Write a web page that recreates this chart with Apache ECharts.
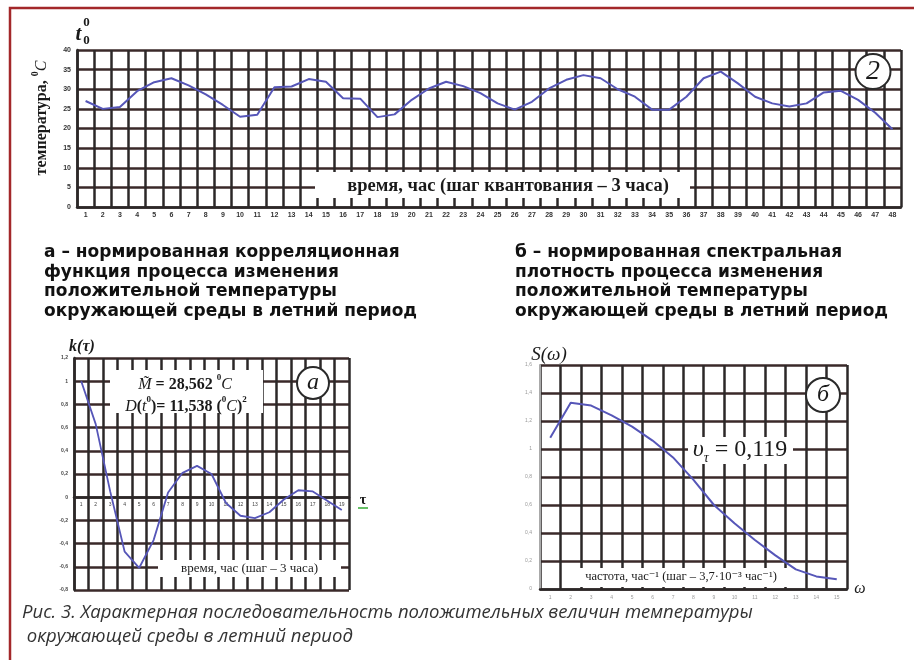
<!DOCTYPE html>
<html><head><meta charset="utf-8">
<script src="https://cdn.jsdelivr.net/npm/echarts@6/dist/echarts.min.js"></script>
<style>html,body{margin:0;padding:0;background:#fff}#c{width:914px;height:660px}</style>
</head><body><div id="c"></div>
<script>
const hourLabels = ['1','2','3','4','5','6','7','8','9','10','11','12','13','14','15','16','17','18','19','20','21','22','23','24','25','26','27','28','29','30','31','32','33','34','35','36','37','38','39','40','41','42','43','44','45','46','47','48'];
const temperature = [27,25,25.5,29.5,31.8,32.8,31,28.7,26,23,23.5,30.5,30.7,32.6,31.9,27.7,27.6,22.9,23.6,27.3,30.2,31.9,30.8,29,26.4,24.8,26.8,30.2,32.4,33.6,32.8,30,28.1,24.8,24.8,28.1,32.8,34.5,31.5,28.1,26.4,25.6,26.4,29.2,29.6,27.3,24,19.8];
const lagLabels = ['1','2','3','4','5','6','7','8','9','10','11','12','13','14','15','16','17','18','19'];
const correlation = [1.0,0.63,0.05,-0.47,-0.61,-0.37,0.04,0.21,0.27,0.2,-0.05,-0.16,-0.18,-0.13,-0.02,0.06,0.05,-0.03,-0.11];
const freqLabels = ['1','2','3','4','5','6','7','8','9','10','11','12','13','14','15'];
const spectrum = [1.08,1.33,1.31,1.24,1.16,1.06,0.94,0.78,0.6,0.47,0.35,0.24,0.14,0.09,0.07];

const GRID_V = '#2c2828';
const GRID_H = '#3a2929';
const LINE = '#5656b8';
const SERIF = '"Liberation Serif", "DejaVu Serif", serif';
const fmt = v => String(Math.round(v * 10) / 10).replace('.', ',');

// bottom-left grid geometry: the lag axis sits on the zero line of k(τ)
const G1 = {top: 358, height: 232, min: -0.8, max: 1.2};
const zeroOffset = -G1.height * (0 - G1.min) / (G1.max - G1.min);

function txt(x, y, text, font, extra) {
  return Object.assign({
    type: 'text', x: x, y: y, z: 20,
    style: Object.assign({text: text, font: font, fill: '#1a1a1a',
      align: 'center', verticalAlign: 'middle', textAlign: 'center', textVerticalAlign: 'middle'}, (extra && extra.style) || {})
  }, (extra && extra.el) || {});
}
function box(x, y, w, h) {
  return {type: 'rect', z: 15, shape: {x: x, y: y, width: w, height: h}, style: {fill: '#fff'}};
}
function ring(cx, cy, r) {
  return {type: 'circle', z: 15, shape: {cx: cx, cy: cy, r: r}, style: {fill: '#fff', stroke: '#2a2a2a', lineWidth: 2}};
}

const chart = echarts.init(document.getElementById('c'), null, {renderer: 'canvas'});
chart.setOption({
  animation: false,
  backgroundColor: '#fff',
  grid: [
    {left: 77, top: 50, width: 824, height: 157, outerBoundsMode: 'none'},
    {left: 74, top: G1.top, width: 275, height: G1.height, outerBoundsMode: 'none'},
    {left: 540, top: 365, width: 307, height: 224, outerBoundsMode: 'none'}
  ],
  xAxis: [
    {type: 'category', gridIndex: 0, data: hourLabels, boundaryGap: true,
     axisLine: {show: true, lineStyle: {color: GRID_V, width: 2.5}}, axisTick: {show: false},
     axisLabel: {interval: 0, fontSize: 7, fontWeight: 'bold', color: '#333', margin: 5},
     splitLine: {show: true, interval: 0, lineStyle: {color: GRID_V, width: 2.5}}},
    {type: 'category', gridIndex: 1, data: lagLabels, boundaryGap: true, offset: zeroOffset,
     axisLine: {show: true, onZero: false, lineStyle: {color: GRID_V, width: 2.5}}, axisTick: {show: false},
     axisLabel: {interval: 0, fontSize: 5, color: '#444', margin: 5},
     splitLine: {show: true, interval: 0, lineStyle: {color: GRID_V, width: 2.5}}},
    {type: 'category', gridIndex: 2, data: freqLabels, boundaryGap: true,
     axisLine: {show: true, lineStyle: {color: GRID_V, width: 2.5}}, axisTick: {show: false},
     axisLabel: {interval: 0, fontSize: 5, color: '#999', margin: 6},
     splitLine: {show: true, interval: 0, lineStyle: {color: GRID_V, width: 2.5}}}
  ],
  yAxis: [
    {type: 'value', gridIndex: 0, min: 0, max: 40, interval: 5,
     axisLine: {show: true, lineStyle: {color: GRID_V, width: 2.5}}, axisTick: {show: false},
     axisLabel: {fontSize: 7, fontWeight: 'bold', color: '#333', margin: 6},
     splitLine: {show: true, lineStyle: {color: GRID_H, width: 2.5}}},
    {type: 'value', gridIndex: 1, min: G1.min, max: G1.max, interval: 0.2,
     axisLine: {show: true, lineStyle: {color: GRID_V, width: 2.5}}, axisTick: {show: false},
     axisLabel: {fontSize: 5, fontWeight: 'bold', color: '#444', margin: 6, formatter: fmt},
     splitLine: {show: true, lineStyle: {color: GRID_H, width: 2.5}}},
    {type: 'value', gridIndex: 2, min: 0, max: 1.6, interval: 0.2,
     axisLine: {show: true, lineStyle: {color: '#aaa', width: 2}}, axisTick: {show: false},
     axisLabel: {fontSize: 5, color: '#999', margin: 8, formatter: fmt},
     splitLine: {show: true, lineStyle: {color: GRID_H, width: 2.5}}}
  ],
  series: [
    {type: 'line', xAxisIndex: 0, yAxisIndex: 0, data: temperature, symbol: 'none', z: 30,
     lineStyle: {color: LINE, width: 2}},
    {type: 'line', xAxisIndex: 1, yAxisIndex: 1, data: correlation, symbol: 'none', z: 30,
     lineStyle: {color: LINE, width: 1.8}},
    {type: 'line', xAxisIndex: 2, yAxisIndex: 2, data: spectrum, symbol: 'none', z: 30,
     lineStyle: {color: LINE, width: 2}}
  ],
  graphic: [
    {type: 'polyline', z: 20, shape: {points: [[914, 8], [10, 8], [10, 660]]},
     style: {stroke: '#a3282a', lineWidth: 2.5, fill: null}},
    // top chart labels
    txt(78.5, 35, 't', 'italic bold 21px ' + SERIF),
    txt(86.5, 23, '0', 'bold 13px ' + SERIF),
    txt(86.5, 41, '0', 'bold 13px ' + SERIF),
    {type: 'text', x: 40, y: 118, z: 20, rotation: Math.PI / 2,
     style: {text: '{a|температура, }{s|0}{c|C}', align: 'center', verticalAlign: 'middle',
       textAlign: 'center', textVerticalAlign: 'middle', fill: '#1a1a1a',
       rich: {a: {font: 'bold 16px ' + SERIF, lineHeight: 20, verticalAlign: 'bottom'},
              s: {font: 'bold 10px ' + SERIF, lineHeight: 20, verticalAlign: 'top'},
              c: {font: 'italic 16px ' + SERIF, lineHeight: 20, verticalAlign: 'bottom'}}}},
    box(315, 172, 375, 26),
    txt(508, 186, 'время, час (шаг квантования – 3 часа)', 'bold 18.5px ' + SERIF),
    ring(873, 71.5, 17.5),
    txt(873, 72, '2', 'italic 28px ' + SERIF),
    // captions
    {type: 'text', x: 44, y: 243, z: 20, style: {text: 'а – нормированная корреляционная\nфункция процесса изменения\nположительной температуры\nокружающей среды в летний период',
      font: 'bold 17px "DejaVu Sans"', lineHeight: 19.5, fill: '#111', align: 'left', verticalAlign: 'top', textAlign: 'left', textVerticalAlign: 'top'}},
    {type: 'text', x: 515, y: 243, z: 20, style: {text: 'б – нормированная спектральная\nплотность процесса изменения\nположительной температуры\nокружающей среды в летний период',
      font: 'bold 17px "DejaVu Sans"', lineHeight: 19.5, fill: '#111', align: 'left', verticalAlign: 'top', textAlign: 'left', textVerticalAlign: 'top'}},
    // bottom-left chart annotations
    txt(82, 347, 'k(τ)', 'italic bold 16px ' + SERIF),
    box(110, 370, 153, 43),
    {type: 'text', x: 185, y: 383, z: 20, style: {text: '{i|M\u0303}{n| = 28,562 }{s|0}{i|C}',
      align: 'center', verticalAlign: 'middle', textAlign: 'center', textVerticalAlign: 'middle', fill: '#1a1a1a',
      rich: {i: {font: 'italic 16px ' + SERIF, lineHeight: 20, verticalAlign: 'bottom'},
             n: {font: 'bold 16px ' + SERIF, lineHeight: 20, verticalAlign: 'bottom'},
             s: {font: 'bold 9px ' + SERIF, lineHeight: 20, verticalAlign: 'top'}}}},
    {type: 'text', x: 186, y: 405, z: 20, style: {text: '{i|D}{n|(}{i|t}{s|0}{n|)= 11,538 (}{s|0}{i|C}{n|)}{s|2}',
      align: 'center', verticalAlign: 'middle', textAlign: 'center', textVerticalAlign: 'middle', fill: '#1a1a1a',
      rich: {i: {font: 'italic 16px ' + SERIF, lineHeight: 20, verticalAlign: 'bottom'},
             n: {font: 'bold 16px ' + SERIF, lineHeight: 20, verticalAlign: 'bottom'},
             s: {font: 'bold 9px ' + SERIF, lineHeight: 20, verticalAlign: 'top'}}}},
    ring(313, 383, 16),
    txt(313, 383, 'a', 'italic 24px ' + SERIF),
    txt(363, 500, 'τ', 'bold 14px ' + SERIF),
    {type: 'line', z: 20, shape: {x1: 358, y1: 508, x2: 368, y2: 508}, style: {stroke: '#3a3', lineWidth: 1.5}},
    box(158, 560, 183, 17),
    txt(249.5, 568.5, 'время, час (шаг – 3 часа)', '13px ' + SERIF),
    // bottom-right chart annotations
    txt(549, 355, 'S(ω)', 'italic 19px ' + SERIF),
    ring(823, 395, 17),
    txt(823, 395, 'б', 'italic 24px ' + SERIF),
    box(688, 437, 105, 27),
    {type: 'text', x: 740, y: 450, z: 20, style: {text: '{i|υ}{t|τ}{n| = 0,119}',
      align: 'center', verticalAlign: 'middle', textAlign: 'center', textVerticalAlign: 'middle', fill: '#1a1a1a',
      rich: {i: {font: 'italic 24px ' + SERIF, lineHeight: 30, verticalAlign: 'middle'},
             t: {font: 'italic 14px ' + SERIF, lineHeight: 30, verticalAlign: 'bottom'},
             n: {font: '24px ' + SERIF, lineHeight: 30, verticalAlign: 'middle'}}}},
    box(562, 568, 238, 19),
    txt(681, 577, 'частота, час⁻¹ (шаг – 3,7·10⁻³ час⁻¹)', '12.5px ' + SERIF),
    txt(860, 589, 'ω', 'italic 16px ' + SERIF),
    // figure caption
    {type: 'text', x: 22, y: 613, z: 20, style: {text: 'Рис. 3. Характерная последовательность положительных величин температуры',
      font: 'italic 18.5px "Open Sans"', fill: '#333', align: 'left', verticalAlign: 'middle', textAlign: 'left', textVerticalAlign: 'middle'}},
    {type: 'text', x: 22, y: 637, z: 20, style: {text: ' окружающей среды в летний период',
      font: 'italic 18.5px "Open Sans"', fill: '#333', align: 'left', verticalAlign: 'middle', textAlign: 'left', textVerticalAlign: 'middle'}}
  ]
});
</script></body></html>
